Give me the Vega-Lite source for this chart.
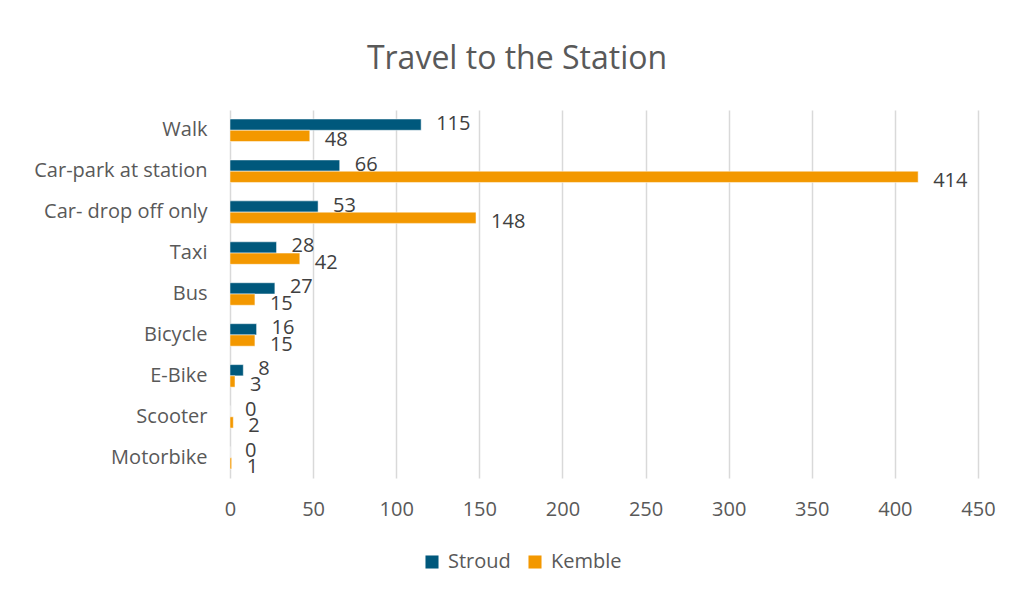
{
  "$schema": "https://vega.github.io/schema/vega-lite/v6.json",
  "width": 748,
  "height": 368,
  "autosize": {"type": "none"},
  "padding": {"left": 230, "top": 110, "right": 35, "bottom": 113},
  "background": "white",
  "config": {
    "font": "Open Sans",
    "view": {"stroke": null}
  },
  "title": {
    "text": "Travel to the Station",
    "fontSize": 32,
    "fontWeight": "normal",
    "color": "#595959",
    "anchor": "middle",
    "dx": -87,
    "offset": 34
  },
  "data": {
    "values": [
      {"mode": "Walk", "series": "Stroud", "value": 115},
      {"mode": "Walk", "series": "Kemble", "value": 48},
      {"mode": "Car-park at station", "series": "Stroud", "value": 66},
      {"mode": "Car-park at station", "series": "Kemble", "value": 414},
      {"mode": "Car- drop off only", "series": "Stroud", "value": 53},
      {"mode": "Car- drop off only", "series": "Kemble", "value": 148},
      {"mode": "Taxi", "series": "Stroud", "value": 28},
      {"mode": "Taxi", "series": "Kemble", "value": 42},
      {"mode": "Bus", "series": "Stroud", "value": 27},
      {"mode": "Bus", "series": "Kemble", "value": 15},
      {"mode": "Bicycle", "series": "Stroud", "value": 16},
      {"mode": "Bicycle", "series": "Kemble", "value": 15},
      {"mode": "E-Bike", "series": "Stroud", "value": 8},
      {"mode": "E-Bike", "series": "Kemble", "value": 3},
      {"mode": "Scooter", "series": "Stroud", "value": 0},
      {"mode": "Scooter", "series": "Kemble", "value": 2},
      {"mode": "Motorbike", "series": "Stroud", "value": 0},
      {"mode": "Motorbike", "series": "Kemble", "value": 1}
    ]
  },
  "encoding": {
    "y": {
      "field": "mode",
      "type": "nominal",
      "sort": ["Walk", "Car-park at station", "Car- drop off only", "Taxi", "Bus", "Bicycle", "E-Bike", "Scooter", "Motorbike"],
      "scale": {"paddingInner": 0.45, "paddingOuter": 0.22},
      "axis": {
        "title": null,
        "domain": false,
        "ticks": false,
        "labelPadding": 23,
        "labelFontSize": 20,
        "labelColor": "#595959",
        "labelFont": "Open Sans"
      }
    },
    "yOffset": {
      "field": "series",
      "type": "nominal",
      "sort": ["Stroud", "Kemble"]
    },
    "x": {
      "field": "value",
      "type": "quantitative",
      "scale": {"domain": [0, 450], "nice": false},
      "axis": {
        "title": null,
        "values": [0, 50, 100, 150, 200, 250, 300, 350, 400, 450],
        "domain": false,
        "ticks": false,
        "grid": true,
        "gridColor": "#D9D9D9",
        "gridWidth": 1.5,
        "labelFlush": false,
        "labelPadding": 21,
        "labelFontSize": 20,
        "labelColor": "#595959",
        "labelFont": "Open Sans"
      }
    }
  },
  "layer": [
    {
      "mark": {"type": "bar", "stroke": "white", "strokeWidth": 0.5},
      "encoding": {
        "color": {
          "field": "series",
          "type": "nominal",
          "sort": ["Stroud", "Kemble"],
          "scale": {"domain": ["Stroud", "Kemble"], "range": ["#00587C", "#F39800"]},
          "legend": {
            "title": null,
            "orient": "none",
            "direction": "horizontal",
            "legendX": 192,
            "legendY": 442,
            "symbolType": "square",
            "symbolSize": 170,
            "symbolStrokeWidth": 0,
            "labelFontSize": 20,
            "labelColor": "#595959",
            "labelFont": "Open Sans",
            "labelOffset": 6,
            "columnPadding": 14
          }
        }
      }
    },
    {
      "transform": [{"filter": "datum.series === 'Stroud'"}],
      "mark": {"type": "text", "align": "left", "baseline": "middle", "dx": 15, "dy": -1, "fontSize": 20, "color": "#404040", "font": "Open Sans"},
      "encoding": {
        "text": {"field": "value", "type": "quantitative"}
      }
    },
    {
      "transform": [{"filter": "datum.series === 'Kemble'"}],
      "mark": {"type": "text", "align": "left", "baseline": "middle", "dx": 15, "dy": 4, "fontSize": 20, "color": "#404040", "font": "Open Sans"},
      "encoding": {
        "text": {"field": "value", "type": "quantitative"}
      }
    }
  ]
}
